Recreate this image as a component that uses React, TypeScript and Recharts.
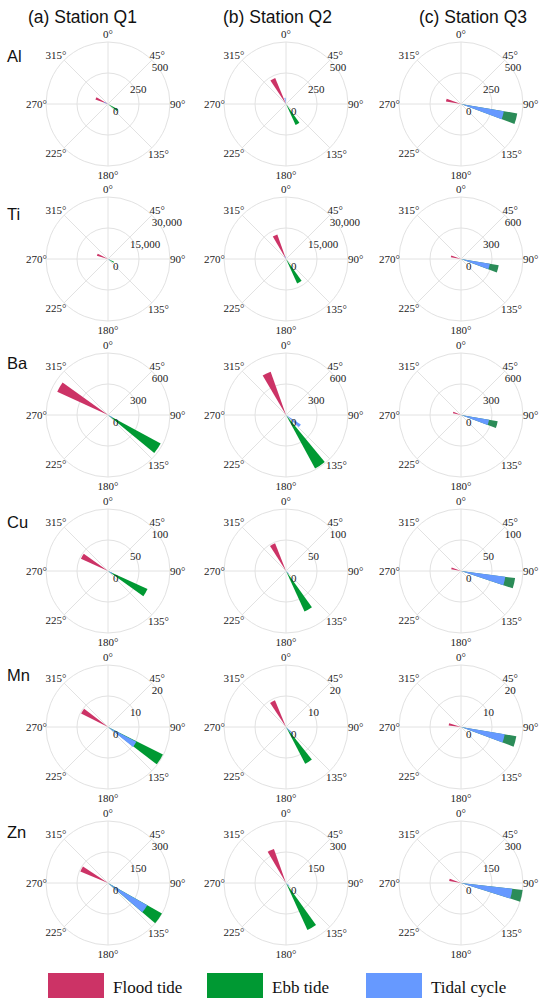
import React from 'react';
import { RadialBarChart, RadialBar, PolarAngleAxis, PolarRadiusAxis, PolarGrid } from 'recharts';

// Column titles and row (element) labels
const stationTitles = ['(a) Station Q1', '(b) Station Q2', '(c) Station Q3'];
const elementNames = ['Al', 'Ti', 'Ba', 'Cu', 'Mn', 'Zn'];
const angleTicks = [0, 45, 90, 135, 180, 225, 270, 315];

// Radial axis maximum per element (rows) and station (columns)
const axisMax = [
  [500, 500, 500],
  [30000, 30000, 600],
  [600, 600, 600],
  [100, 100, 100],
  [20, 20, 20],
  [300, 300, 300],
];

// Directions (deg, clockwise from north) and magnitudes; rows Al..Zn, cols Q1..Q3
const floodDirs = [
  [295, 332, 285],
  [292, 335, 285],
  [300, 335, 288],
  [300, 333, 285],
  [302, 332, 282],
  [298, 335, 285],
];
const floodValues = [
  [108, 228, 123],
  [5600, 12600, 100],
  [540, 445, 80],
  [48, 48, 16],
  [9.7, 9.3, 4],
  [145, 175, 58],
];
const ebbDirs = [
  [123, 150, 105],
  [120, 150, 105],
  [124, 146, 105],
  [120, 150, 103],
  [122, 147, 105],
  [125, 150, 102],
];
const ebbValues = [
  [90, 186, 460],
  [3200, 13000, 370],
  [580, 590, 360],
  [70, 72, 88],
  [19.8, 13.4, 18.1],
  [300, 250, 300],
];
const tidalDirs = [
  [293, 350, 105],
  [120, 340, 105],
  [120, 128, 105],
  [120, 135, 103],
  [123, 135, 105],
  [125, 130, 102],
];
const tidalValues = [
  [35, 50, 350],
  [1200, 1500, 283],
  [50, 170, 275],
  [8, 6, 72],
  [10.3, 3, 14.3],
  [218, 20, 250],
];

const seriesNames = ['Flood tide', 'Ebb tide', 'Tidal cycle'];
const seriesColors = ['#cc3366', '#009933', '#6699ff'];
const ebbColorByStation = ['#009933', '#009933', '#2b8c58'];

const colCenters = [107.5, 286, 461];
const rowCenters = [103.5, 259.3, 415.1, 570.9, 726.7, 882.5];
const rowLabelBaselines = [61.7, 220, 369.3, 528, 680.7, 838];
const R = 62;
const CW = 200;
const CH = 172;
const SERIF = "'Liberation Serif', 'Times New Roman', serif";
const SANS = "'Liberation Sans', Arial, sans-serif";

const angleLabelStyle: Record<number, { anchor: string; dx: number; dy: number }> = {
  0: { anchor: 'middle', dx: 0, dy: -3 },
  45: { anchor: 'start', dx: -3, dy: -0.5 },
  90: { anchor: 'start', dx: -1, dy: 3.5 },
  135: { anchor: 'start', dx: -4.5, dy: 9.5 },
  180: { anchor: 'middle', dx: 0, dy: 12 },
  225: { anchor: 'end', dx: 3, dy: 8.5 },
  270: { anchor: 'end', dx: 2, dy: 3.5 },
  315: { anchor: 'end', dx: 3, dy: -0.5 },
};

const renderAngleTick = (props: any) => {
  const v = props.payload.value;
  const s = angleLabelStyle[v] || { anchor: 'middle', dx: 0, dy: 0 };
  return (
    <text
      x={props.x + s.dx}
      y={props.y + s.dy}
      textAnchor={s.anchor as any}
      fontFamily={SERIF}
      fontSize={11}
      fill="#222"
    >
      {v + '°'}
    </text>
  );
};

const renderRadiusTick = (props: any) => {
  const v = props.payload.value;
  return (
    <text
      x={props.x + (v === 0 ? 5 : 0)}
      y={props.y + 11}
      textAnchor="start"
      fontFamily={SERIF}
      fontSize={11}
      fill="#222"
    >
      {Number(v).toLocaleString('en-US')}
    </text>
  );
};

function Panel({ row, col }: { row: number; col: number }) {
  const max = axisMax[row][col];
  const data = [
    { dir: floodDirs[row][col], flood: floodValues[row][col], ebb: 0, tidal: 0 },
    { dir: ebbDirs[row][col], flood: 0, ebb: ebbValues[row][col], tidal: 0 },
    { dir: tidalDirs[row][col], flood: 0, ebb: 0, tidal: tidalValues[row][col] },
  ];
  return (
    <div style={{ position: 'absolute', left: colCenters[col] - CW / 2, top: rowCenters[row] - CH / 2 }}>
      <RadialBarChart
        width={CW}
        height={CH}
        data={data}
        layout="centric"
        cx={CW / 2}
        cy={CH / 2}
        innerRadius={0}
        outerRadius={R}
        startAngle={90}
        endAngle={-270}
        barSize={11}
        margin={{ top: 0, right: 0, bottom: 0, left: 0 }}
      >
        <PolarGrid gridType="circle" stroke="#e2e2e2" angleAxisId={0} radiusAxisId={0} />
        <PolarAngleAxis
          angleAxisId={0}
          type="number"
          dataKey="dir"
          domain={[0, 360]}
          ticks={angleTicks}
          tick={renderAngleTick}
          tickLine={false}
          axisLine={false}
          tickSize={1}
        />
        <PolarAngleAxis angleAxisId={1} type="number" dataKey="dir" domain={[0, 360]} ticks={angleTicks} tick={false} tickLine={false} axisLine={false} />
        <PolarAngleAxis angleAxisId={2} type="number" dataKey="dir" domain={[0, 360]} ticks={angleTicks} tick={false} tickLine={false} axisLine={false} />
        <PolarRadiusAxis
          radiusAxisId={0}
          type="number"
          domain={[0, max]}
          ticks={[0, max / 2, max]}
          angle={45}
          axisLine={false}
          tick={renderRadiusTick}
        />
        <RadialBar angleAxisId={0} radiusAxisId={0} dataKey="flood" fill={seriesColors[0]} isAnimationActive={false} />
        <RadialBar angleAxisId={1} radiusAxisId={0} dataKey="ebb" fill={ebbColorByStation[col]} isAnimationActive={false} />
        <RadialBar angleAxisId={2} radiusAxisId={0} dataKey="tidal" fill={seriesColors[2]} isAnimationActive={false} />
      </RadialBarChart>
    </div>
  );
}

const titleCenters = [82.5, 277.5, 473];
const legendSwatchX = [48, 207, 366];

export default function App() {
  const panels: React.ReactNode[] = [];
  for (let r = 0; r < elementNames.length; r++) {
    for (let c = 0; c < 3; c++) {
      panels.push(<Panel key={`${r}-${c}`} row={r} col={c} />);
    }
  }
  return (
    <div style={{ position: 'absolute', left: 0, top: 0, width: 550, height: 1005, background: '#fff', overflow: 'hidden' }}>
      {panels}
      <svg width={550} height={1005} style={{ position: 'absolute', left: 0, top: 0, pointerEvents: 'none' }}>
        {stationTitles.map((t, i) => (
          <text key={t} x={titleCenters[i]} y={23} textAnchor="middle" fontFamily={SANS} fontSize={17.5} fill="#111">
            {t}
          </text>
        ))}
        {elementNames.map((e, i) => (
          <text key={e} x={7} y={rowLabelBaselines[i]} fontFamily={SANS} fontSize={16.5} fill="#111">
            {e}
          </text>
        ))}
        {seriesNames.map((n, i) => (
          <g key={n}>
            <rect x={legendSwatchX[i]} y={973} width={56} height={25} fill={seriesColors[i]} />
            <text x={legendSwatchX[i] + 65} y={993} fontFamily={SERIF} fontSize={17} fill="#111">
              {n}
            </text>
          </g>
        ))}
      </svg>
    </div>
  );
}
